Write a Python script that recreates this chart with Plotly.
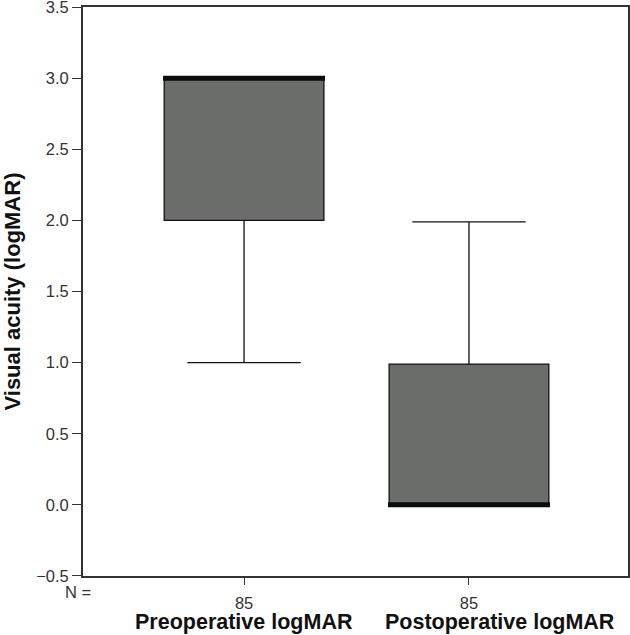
import plotly.graph_objects as go

# ---- data ----
categories = ["Preoperative logMAR", "Postoperative logMAR"]
n_counts = [85, 85]
lower_whisker = [1.0, 0.0]
q1_values = [2.0, 0.0]
medians = [3.0, 0.0]
q3_values = [3.0, 0.99]
upper_whisker = [3.0, 1.99]
y_ticks = [-0.5, 0.0, 0.5, 1.0, 1.5, 2.0, 2.5, 3.0, 3.5]
y_title = "Visual acuity (logMAR)"

positions = list(range(len(categories)))
box_width = 0.71
fill = "#6b6d6b"

L, R, T, B = 83, 2, 7, 59
W, H = 630, 635
pw, ph = W - L - R, H - T - B

fig = go.Figure()
for i, cat in enumerate(categories):
    fig.add_trace(go.Box(
        x=[positions[i]],
        q1=[q1_values[i]], median=[medians[i]], q3=[q3_values[i]],
        lowerfence=[lower_whisker[i]], upperfence=[upper_whisker[i]],
        width=box_width, whiskerwidth=0.71,
        fillcolor=fill, line=dict(color="#111111", width=1.3),
        boxpoints=False, showlegend=False, name=cat, hoverinfo="skip",
    ))
    # thick median line
    fig.add_trace(go.Scatter(
        x=[positions[i] - box_width / 2 - 0.005, positions[i] + box_width / 2 + 0.005],
        y=[medians[i], medians[i]], mode="lines",
        line=dict(color="#0a0d0d", width=5), showlegend=False, hoverinfo="skip",
    ))

fig.update_layout(
    width=W, height=H, autosize=False,
    margin=dict(l=L, r=R, t=T, b=B),
    plot_bgcolor="white", paper_bgcolor="white",
    font=dict(family="Liberation Sans, Arial, sans-serif", color="#333333", size=16),
    xaxis=dict(
        range=[-0.716, 1.707], tickmode="array", tickvals=positions,
        ticktext=[str(n) for n in n_counts], ticks="outside", ticklen=7,
        tickcolor="#333333", tickwidth=1.3, showgrid=False, zeroline=False,
        showline=True, linecolor="#333333", linewidth=1.8, mirror=True,
        tickfont=dict(size=16.5, color="#333333"), ticklabelstandoff=4,
        automargin=False,
    ),
    yaxis=dict(
        range=[-0.5001, 3.5001], tickmode="array", tickvals=y_ticks,
        ticktext=[f"{v:.1f}".replace("-", "\u2212") for v in y_ticks],
        ticks="outside", ticklen=9, tickcolor="#333333", tickwidth=1.3,
        showgrid=False, zeroline=False, showline=True, linecolor="#333333",
        linewidth=1.8, mirror=True, tickfont=dict(size=16.5, color="#333333"),
        automargin=False, ticklabeloverflow="allow",
    ),
)

# y-axis title
fig.add_annotation(text=f"<b>{y_title}</b>", xref="paper", yref="paper",
                   x=(12 - L) / pw, y=0.5, textangle=-90, xanchor="center", yanchor="middle",
                   showarrow=False, font=dict(size=22, color="#111111"))
# N = label
fig.add_annotation(text="N =", xref="paper", yref="paper", x=(93 - L) / pw, y=-16 / ph,
                   xanchor="right", yanchor="middle", showarrow=False,
                   font=dict(size=16.5, color="#333333"))
# category labels
label_x = [positions[0], positions[1] + 0.14]
for i, cat in enumerate(categories):
    fig.add_annotation(text=f"<b>{cat}</b>", xref="x", yref="paper", x=label_x[i], y=-45.5 / ph,
                       xanchor="center", yanchor="middle", showarrow=False,
                       font=dict(size=21.5, color="#111111"))

fig.write_html(
    "out.html",
    config={"responsive": False, "displayModeBar": False},
    post_script="document.body.style.margin='0';document.body.style.overflow='hidden';",
)
